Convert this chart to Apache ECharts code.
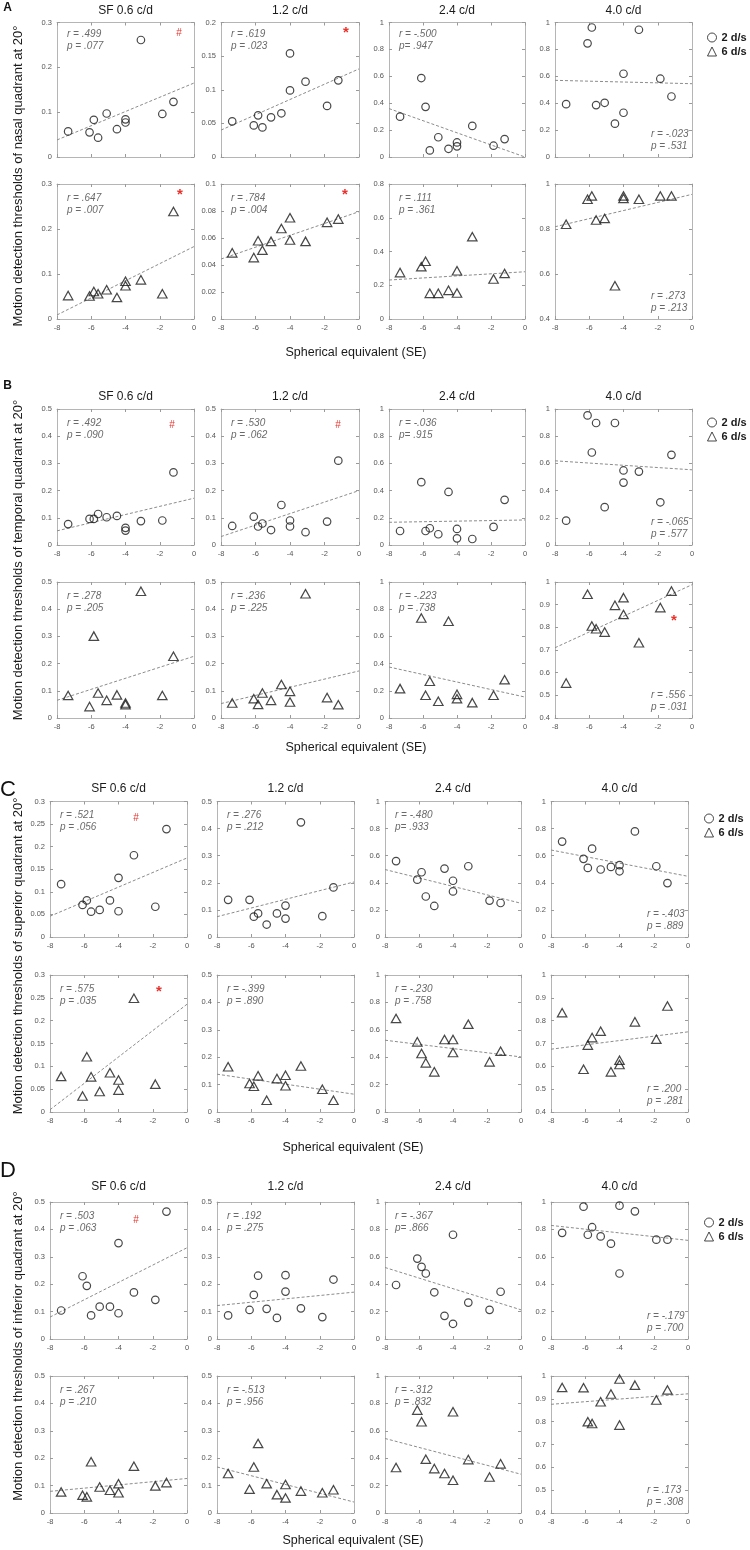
<!DOCTYPE html>
<html><head><meta charset="utf-8">
<script src="https://cdn.jsdelivr.net/npm/echarts@6/dist/echarts.min.js"></script>
<style>html,body{margin:0;padding:0;background:#fff}#c{width:750px;height:1550px}</style>
</head><body><div id="c"></div>
<script>
// ---------------- DATA ----------------
const seValues = [-7.35, -6.1, -5.85, -5.6, -5.1, -4.5, -4.0, -4.0, -3.1, -1.85, -1.2];
const sfTitles = ['SF 0.6 c/d', '1.2 c/d', '2.4 c/d', '4.0 c/d'];
const panelLetters = ['A', 'B', 'C', 'D'];
const quadrantLabels = [
  'Motion detection thresholds of nasal quadrant at 20°',
  'Motion detection thresholds of temporal quadrant at 20°',
  'Motion detection thresholds of superior quadrant at 20°',
  'Motion detection thresholds of inferior quadrant at 20°'
];
const xAxisTitle = 'Spherical equivalent (SE)';
const speedNames = ['2 d/s', '6 d/s'];
const xRange = [-8, 0, 2];

// y-axis ranges [min, max, interval] per panel -> row -> column
const yRangesA = [[[0,0.3,0.1],[0,0.2,0.05],[0,1,0.2],[0,1,0.2]], [[0,0.3,0.1],[0,0.1,0.02],[0,0.8,0.2],[0.4,1,0.2]]];
const yRangesB = [[[0,0.5,0.1],[0,0.5,0.1],[0,1,0.2],[0,1,0.2]], [[0,0.5,0.1],[0,0.5,0.1],[0,1,0.2],[0.4,1,0.1]]];
const yRangesC = [[[0,0.3,0.05],[0,0.5,0.1],[0,1,0.2],[0,1,0.2]], [[0,0.3,0.05],[0,0.5,0.1],[0,1,0.2],[0.4,1,0.1]]];
const yRangesD = [[[0,0.5,0.1],[0,0.5,0.1],[0,1,0.2],[0,1,0.2]], [[0,0.5,0.1],[0,0.5,0.1],[0,1,0.2],[0.4,1,0.1]]];

// nasal quadrant
const nasal2 = [
  [0.057,0.055,0.083,0.043,0.097,0.062,0.084,0.077,0.261,0.096,0.123],
  [0.053,0.047,0.062,0.044,0.059,0.065,0.154,0.099,0.112,0.076,0.114],
  [0.30,0.587,0.373,0.049,0.147,0.061,0.108,0.079,0.231,0.084,0.133],
  [0.393,0.845,0.963,0.386,0.403,0.248,0.619,0.329,0.946,0.582,0.45]
];
const nasal6 = [
  [0.052,0.051,0.061,0.056,0.065,0.048,0.084,0.074,0.087,0.056,0.239],
  [0.049,0.0455,0.058,0.051,0.0575,0.067,0.075,0.0585,0.0575,0.0716,0.074],
  [0.275,0.31,0.342,0.152,0.152,0.17,0.286,0.154,0.488,0.237,0.27],
  [0.821,0.932,0.947,0.84,0.847,0.548,0.947,0.936,0.932,0.947,0.947]
];
const nasal2Fit = [[0.038,0.165],[0.040,0.131],[0.36,0.0],[0.57,0.545]];
const nasal6Fit = [[0.009,0.161],[0.0444,0.0795],[0.231,0.28],[0.81,0.954]];
const nasal2Stats = [['r = .499','p = .077'],['r = .619','p = .023'],['r = -.500','p= .947'],['r = -.023','p = .531']];
const nasal6Stats = [['r = .647','p = .007'],['r = .784','p = .004'],['r = .111','p = .361'],['r = .273','p = .213']];

// temporal quadrant
const temporal2 = [
  [0.077,0.096,0.096,0.114,0.102,0.107,0.063,0.053,0.088,0.09,0.267],
  [0.07,0.104,0.068,0.079,0.055,0.147,0.09,0.068,0.047,0.086,0.31],
  [0.103,0.462,0.103,0.123,0.079,0.39,0.118,0.049,0.044,0.133,0.332],
  [0.179,0.953,0.68,0.897,0.278,0.897,0.548,0.459,0.54,0.314,0.663]
];
const temporal6 = [
  [0.083,0.042,0.301,0.092,0.065,0.085,0.055,0.049,0.466,0.083,0.227],
  [0.055,0.071,0.05,0.092,0.065,0.123,0.098,0.059,0.457,0.075,0.049],
  [0.216,0.735,0.167,0.27,0.123,0.711,0.174,0.142,0.113,0.167,0.282],
  [0.554,0.946,0.806,0.794,0.779,0.897,0.931,0.857,0.732,0.887,0.96]
];
const temporal2Fit = [[0.052,0.172],[0.031,0.2],[0.167,0.184],[0.619,0.553]];
const temporal6Fit = [[0.065,0.227],[0.053,0.173],[0.375,0.154],[0.71,0.988]];
const temporal2Stats = [['r = .492','p = .090'],['r = .530','p = .062'],['r = -.036','p= .915'],['r = -.065','p = .577']];
const temporal6Stats = [['r = .278','p = .205'],['r = .236','p = .225'],['r = -.223','p = .738'],['r = .556','p = .031']];

// superior quadrant
const superior2 = [
  [0.117,0.071,0.081,0.056,0.06,0.081,0.131,0.057,0.181,0.067,0.239],
  [0.137,0.137,0.075,0.087,0.046,0.087,0.116,0.068,0.423,0.077,0.183],
  [0.56,0.423,0.478,0.299,0.229,0.505,0.415,0.336,0.522,0.269,0.251],
  [0.704,0.577,0.51,0.652,0.498,0.517,0.53,0.485,0.779,0.522,0.398]
];
const superior6 = [
  [0.078,0.035,0.121,0.077,0.045,0.086,0.07,0.048,0.249,0.061,null],
  [0.165,0.104,0.094,0.132,0.043,0.122,0.134,0.096,0.168,0.083,0.043],
  [0.683,0.512,0.427,0.359,0.293,0.529,0.529,0.434,0.641,0.366,0.444],
  [0.835,0.587,0.693,0.726,0.754,0.576,0.627,0.608,0.795,0.719,0.864]
];
const superior2Fit = [[0.046,0.175],[0.075,0.203],[0.498,0.249],[0.642,0.448]];
const superior6Fit = [[0.005,0.236],[0.138,0.065],[0.524,0.402],[0.675,0.751]];
const superior2Stats = [['r = .521','p = .056'],['r = .276','p = .212'],['r = -.480','p= .933'],['r = -.403','p = .889']];
const superior6Stats = [['r = .575','p = .035'],['r = -.399','p = .890'],['r = -.230','p = .758'],['r = .200','p = .281']];

// inferior quadrant
const inferior2 = [
  [0.104,0.229,0.194,0.086,0.118,0.118,0.35,0.094,0.17,0.143,0.465],
  [0.086,0.106,0.161,0.231,0.11,0.077,0.233,0.173,0.112,0.08,0.217],
  [0.394,0.587,0.527,0.478,0.341,0.169,0.761,0.111,0.266,0.213,0.345],
  [0.775,0.966,0.761,0.816,0.749,0.696,0.973,0.478,0.932,0.725,0.725]
];
const inferior6 = [
  [0.077,0.065,0.059,0.187,0.095,0.083,0.107,0.074,0.171,0.099,0.111],
  [0.144,0.087,0.168,0.254,0.107,0.067,0.104,0.055,0.08,0.074,0.085],
  [0.332,0.751,0.666,0.393,0.324,0.288,0.739,0.239,0.39,0.263,0.359],
  [0.95,0.949,0.8,0.792,0.887,0.921,0.987,0.785,0.96,0.895,0.939]
];
const inferior2Fit = [[0.08,0.333],[0.122,0.171],[0.522,0.213],[0.829,0.72]];
const inferior6Fit = [[0.079,0.126],[0.168,0.04],[0.544,0.283],[0.876,0.922]];
const inferior2Stats = [['r = .503','p = .063'],['r = .192','p = .275'],['r = -.367','p= .866'],['r = -.179','p = .700']];
const inferior6Stats = [['r = .267','p = .210'],['r = -.513','p = .956'],['r = -.312','p = .832'],['r = .173','p = .308']];

// significance marks: [panel, row, col, symbol]
const sigMarks = [[0,0,0,'#'],[0,0,1,'*'],[0,1,0,'*'],[0,1,1,'*'],[1,0,0,'#'],[1,0,1,'#'],[1,1,3,'*'],[2,0,0,'#'],[2,1,0,'*'],[3,0,0,'#']];

// ---------------- LAYOUT ----------------
const FONT = '"Liberation Sans", Arial, sans-serif';
const colsAB = [[57,194],[221,359],[389,525],[555,692]];
const colsCD = [[50,187],[217,354],[385,521],[551,688]];
const panelCols = [colsAB, colsAB, colsCD, colsCD];
const panelRows = [[[22.5,157],[184,319]], [[409,545],[582,718]], [[801.5,937],[975,1112]], [[1202,1339],[1376,1513]]];
const titleY = [10.5, 397, 789, 1187];
const seLabelY = [353, 748, 1148, 1541];
const seLabelX = [356, 356, 353, 353];
const yLabelY = [176, 560, 956, 1346];
const legendPos = [[702, 27], [702, 412], [699, 808], [699, 1212]];
// offsets of significance marks: [dx from right, dy from top]
const sigOffsets = [[-15,11],[-13,10],[-14,11],[-14,11],[-22,16],[-21,16],[-18,39],[-51,17],[-28,17],[-51,18]];

const panelData = [
  [nasal2, nasal6, nasal2Fit, nasal6Fit, nasal2Stats, nasal6Stats, yRangesA],
  [temporal2, temporal6, temporal2Fit, temporal6Fit, temporal2Stats, temporal6Stats, yRangesB],
  [superior2, superior6, superior2Fit, superior6Fit, superior2Stats, superior6Stats, yRangesC],
  [inferior2, inferior6, inferior2Fit, inferior6Fit, inferior2Stats, inferior6Stats, yRangesD]
];

const fmt = v => String(+(+v).toFixed(3));
const axisLineCol = '#b5b5b5';
const tickCol = '#9a9a9a';
const labelCol = '#555';

const grids = [], xAxes = [], yAxes = [], series = [], graphics = [];

function txt(x, y, text, o) {
  const st = Object.assign({
    text: text, fill: '#222', fontSize: 12, fontFamily: FONT,
    textAlign: 'center', textVerticalAlign: 'middle', align: 'center', verticalAlign: 'middle'
  }, o || {});
  if (o && o.textAlign) st.align = o.textAlign;
  return { type: 'text', x: x, y: y, silent: true, z: 10, style: st };
}

for (let p = 0; p < 4; p++) {
  const [d2, d6, f2, f6, s2, s6, yr] = panelData[p];
  const rowsData = [d2, d6], fits = [f2, f6], stats = [s2, s6];
  for (let r = 0; r < 2; r++) {
    const [top, bottom] = panelRows[p][r];
    for (let c = 0; c < 4; c++) {
      const [left, right] = panelCols[p][c];
      const gi = grids.length;
      grids.push({ left: left, top: top, width: right - left, height: bottom - top, containLabel: false });
      const showXLabel = !(p === 0 && r === 0);
      const common = {
        type: 'value', gridIndex: gi, splitLine: { show: false },
        axisLine: { show: true, onZero: false, lineStyle: { color: axisLineCol, width: 1 } },
        axisTick: { show: true, inside: true, length: 3, lineStyle: { color: tickCol } }
      };
      xAxes.push(Object.assign({}, common, {
        position: 'bottom', min: xRange[0], max: xRange[1], interval: xRange[2],
        axisLabel: { show: showXLabel, fontSize: 7.5, color: labelCol, margin: 5, fontFamily: FONT, formatter: fmt }
      }));
      xAxes.push(Object.assign({}, common, {
        position: 'top', min: xRange[0], max: xRange[1], interval: xRange[2],
        axisLabel: { show: false }
      }));
      const [ymin, ymax, yint] = yr[r][c];
      yAxes.push(Object.assign({}, common, {
        position: 'left', min: ymin, max: ymax, interval: yint,
        axisLabel: { show: true, fontSize: 7.5, color: labelCol, margin: 5, fontFamily: FONT, formatter: fmt }
      }));
      yAxes.push(Object.assign({}, common, {
        position: 'right', min: ymin, max: ymax, interval: yint,
        axisLabel: { show: false }
      }));
      const ys = rowsData[r][c];
      const pts = [];
      seValues.forEach((x, i) => { if (ys[i] != null) pts.push([x, ys[i]]); });
      series.push({
        type: 'scatter', name: speedNames[r], xAxisIndex: 2 * gi, yAxisIndex: 2 * gi,
        symbol: r === 0 ? 'circle' : 'triangle', symbolSize: r === 0 ? 7.5 : [9.5, 8.5],
        itemStyle: { color: 'rgba(255,255,255,0)', borderColor: '#1a1a1a', borderWidth: 1.2 },
        data: pts, silent: true, z: 4, animation: false
      });
      const f = fits[r][c];
      series.push({
        type: 'line', xAxisIndex: 2 * gi, yAxisIndex: 2 * gi,
        data: [[xRange[0], f[0]], [xRange[1], f[1]]],
        symbol: 'none', showSymbol: false, silent: true, z: 3, clip: true,
        lineStyle: { color: '#8c8c8c', width: 1, type: [3, 2] }, animation: false
      });
      // stats text
      const st = stats[r][c];
      const sOpt = { fontSize: 10, fontStyle: 'italic', fill: '#6a6a6a', textAlign: 'left' };
      if (c === 3) {
        graphics.push(txt(right - 41, bottom - 23, st[0], sOpt));
        graphics.push(txt(right - 41, bottom - 11, st[1], sOpt));
      } else {
        const o1 = (p === 0 && r === 0) ? 12 : 14;
        graphics.push(txt(left + 10, top + o1, st[0], sOpt));
        graphics.push(txt(left + 10, top + o1 + 12, st[1], sOpt));
      }
      if (r === 0) {
        graphics.push(txt((left + right) / 2, titleY[p], sfTitles[c], { fontSize: 12, fill: '#1a1a1a' }));
      }
    }
  }
  // panel letter
  if (p < 2) {
    graphics.push(txt(7.5, p === 0 ? 7.5 : 386, panelLetters[p], { fontSize: 12, fontWeight: 'bold', fill: '#111' }));
  } else {
    graphics.push(txt(8, p === 2 ? 790 : 1171, panelLetters[p], { fontSize: 22, fill: '#111' }));
  }
  // y-axis label
  const yl = txt(18, yLabelY[p], quadrantLabels[p], { fontSize: 13, fill: '#1a1a1a' });
  yl.rotation = Math.PI / 2;
  graphics.push(yl);
  // x-axis label
  graphics.push(txt(seLabelX[p], seLabelY[p], xAxisTitle, { fontSize: 12.5, fill: '#1a1a1a' }));
}

sigMarks.forEach((m, k) => {
  const [p, r, c, ch] = m;
  const right = panelCols[p][c][1], top = panelRows[p][r][0];
  const off = sigOffsets[k];
  graphics.push(txt(right + off[0], top + off[1], ch, {
    fontSize: ch === '*' ? 15 : 10, fill: '#e8312b', fontWeight: ch === '*' ? 'bold' : 'normal'
  }));
});

const legends = legendPos.map(lp => ({
  data: speedNames, orient: 'vertical', left: lp[0], top: lp[1],
  itemWidth: 9, itemHeight: 9, itemGap: 3, selectedMode: false,
  itemStyle: { borderWidth: 1, borderColor: '#1a1a1a', color: 'rgba(255,255,255,0)' },
  textStyle: { fontSize: 11, fontWeight: 'bold', color: '#1a1a1a', fontFamily: FONT }
}));

const chart = echarts.init(document.getElementById('c'), null, { renderer: 'canvas' });
chart.setOption({
  backgroundColor: '#fff', animation: false,
  grid: grids, xAxis: xAxes, yAxis: yAxes, series: series,
  legend: legends, graphic: graphics
});
</script></body></html>
